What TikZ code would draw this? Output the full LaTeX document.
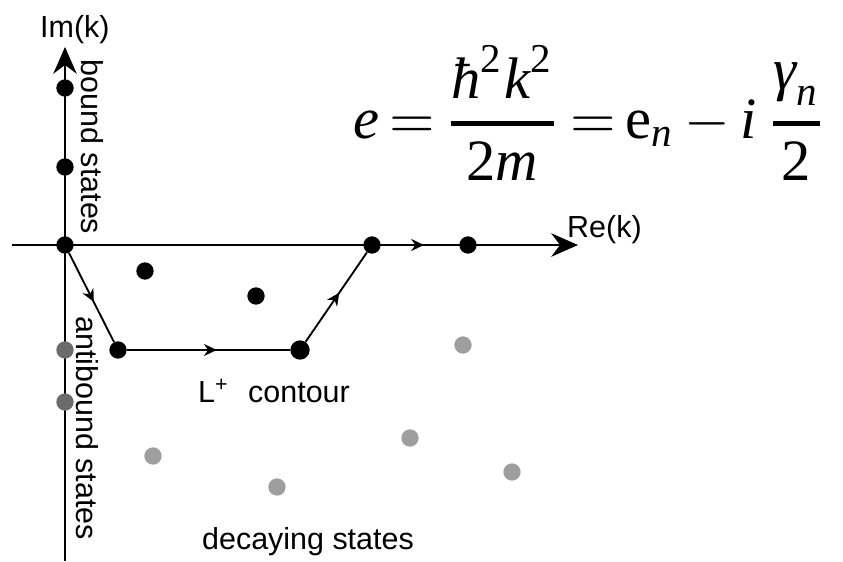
\documentclass[tikz,border=0pt]{standalone}
\usepackage{amsmath,amssymb}
\usepackage{fontspec}
\setmainfont{Liberation Sans}
\newfontfamily\eqfont{Liberation Serif}
\newcommand\eqi[1]{\text{\eqfont\itshape #1}}
\newcommand\eqr[1]{\text{\eqfont #1}}
\usetikzlibrary{arrows.meta,decorations.markings}

\begin{document}
\begin{tikzpicture}[x=0.03cm, y=-0.03cm,
    bdot/.style={circle, fill=black, inner sep=0pt, minimum size=0.52cm},
    adot/.style={circle, fill=black!58, inner sep=0pt, minimum size=0.52cm},
    ddot/.style={circle, fill=black!38, inner sep=0pt, minimum size=0.52cm},
    lbl/.style={font=\fontsize{26}{30}\selectfont, inner sep=0pt},
    axis/.style={line width=2.4pt, -{Stealth[length=0.8cm, width=0.7cm]}},
    contour/.style={line width=1.6pt, postaction=decorate,
        decoration={markings, mark=at position 0.55 with {\arrow{Stealth[length=0.38cm, width=0.36cm]}}}},
]
\useasboundingbox (0,0) rectangle (843,561);

% Axes
\coordinate (xl) at (12,245);
\coordinate (xr) at (578,245);
\coordinate (yb) at (65,561);
\coordinate (yt) at (65,47);
\draw[axis] (xl) -- (xr);
\draw[axis] (yb) -- (yt);
\node[lbl, anchor=base west] (imk) at (40,37) {Im(k)};
\node[lbl, anchor=base west] (rek) at (567,237) {Re(k)};

% Bound states
\node[bdot] (b1) at (65,88) {};
\node[bdot] (b2) at (65,167) {};
\node[bdot] (o) at (65,245) {};
\node[lbl, rotate=-90] (blbl) at (92,147) {bound states};

% Antibound states
\node[adot] (a1) at (65,350) {};
\node[adot] (a2) at (65,402) {};
\node[lbl, rotate=-90] (albl) at (87,428) {antibound states};

% Contour
\node[bdot] (c1) at (118,350) {};
\node[bdot, minimum size=0.58cm] (c2) at (300,350) {};
\node[bdot] (c3) at (372,245) {};
\node[bdot] (c4) at (468,245) {};
\draw[contour] (o) -- (c1);
\draw[contour] (c1) -- (c2);
\draw[contour] (c2) -- (c3);
\draw[contour] (c3) -- (c4);
\node[lbl, anchor=base west] (lp) at (198,402) {L\textsuperscript{+}};
\node[lbl, anchor=base west] (clbl) at (248,402) {contour};

% Resonances
\node[bdot] (r1) at (145,271) {};
\node[bdot] (r2) at (256,296) {};
\node[ddot] (d1) at (463,345) {};
\node[ddot] (d2) at (153,456) {};
\node[ddot] (d3) at (277,487) {};
\node[ddot] (d4) at (410,438) {};
\node[ddot] (d5) at (512,472) {};
\node[lbl, anchor=base] (dlbl) at (308,549) {decaying states};

% Energy
\node[scale=5, inner sep=0pt] (eq) at (590,113)
    {$\displaystyle \eqi{e}\,{=}\,\genfrac{}{}{0.9pt}{0}{\eqi{ħ}^{\eqr{2}}\eqi{k}^{\eqr{2}}}{\eqr{2}\eqi{m}}
     \,{=}\,\eqr{e}_{\eqi{n}}\,{-}\,\eqi{i}\,\genfrac{}{}{0.9pt}{0}{\eqi{γ}_{\eqi{n}}}{\eqr{2}}$};
\end{tikzpicture}
\end{document}
